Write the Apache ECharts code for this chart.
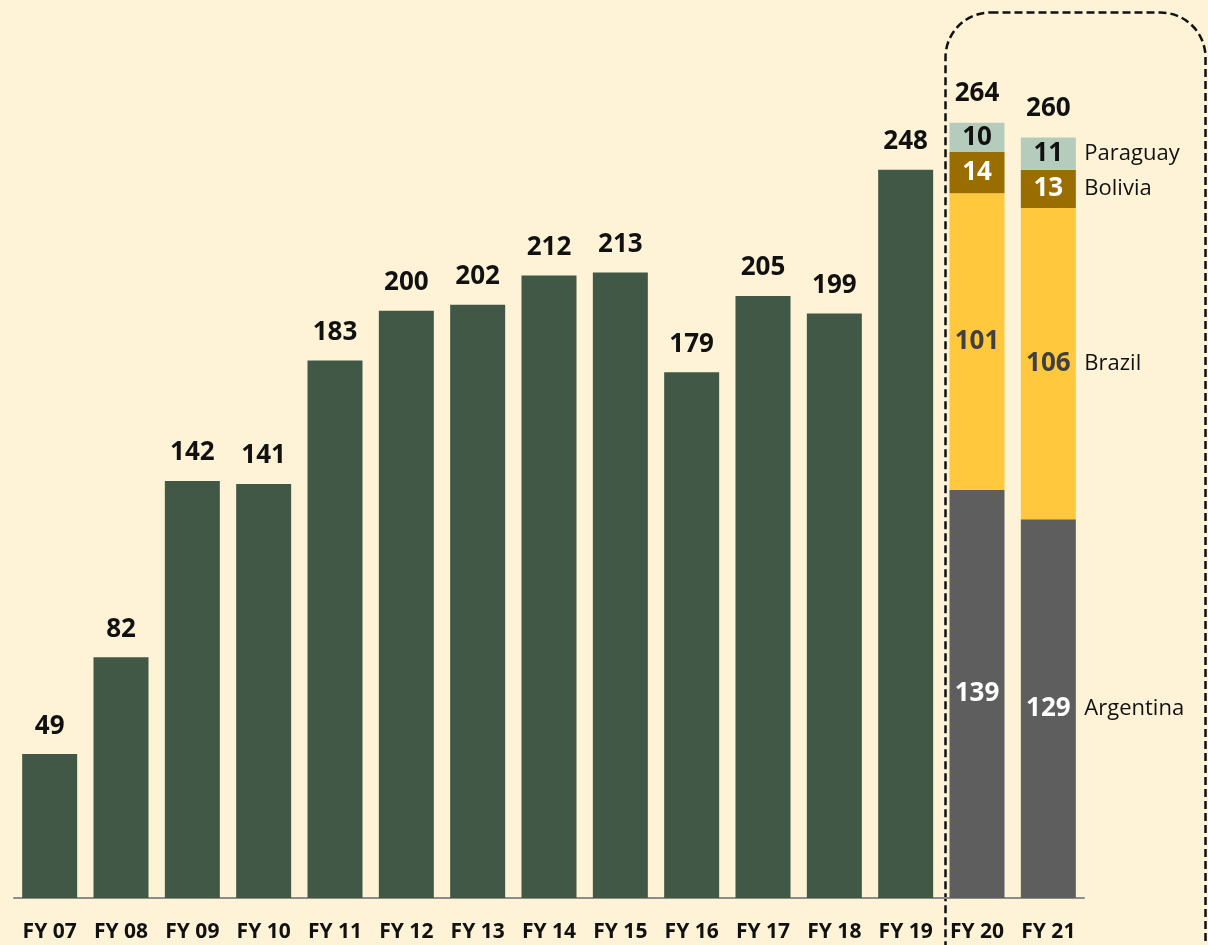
<!DOCTYPE html>
<html><head><meta charset="utf-8">
<script src="https://cdn.jsdelivr.net/npm/echarts@6/dist/echarts.min.js"></script>
<style>html,body{margin:0;padding:0;background:#FFF3D7;}#c{width:1208px;height:945px;}</style>
</head><body><div id="c"></div>
<script>
const categories = ['FY 07','FY 08','FY 09','FY 10','FY 11','FY 12','FY 13','FY 14','FY 15','FY 16','FY 17','FY 18','FY 19','FY 20','FY 21'];
const totalValues = [49,82,142,141,183,200,202,212,213,179,205,199,248,null,null];
const argentina = [null,null,null,null,null,null,null,null,null,null,null,null,null,139,129];
const brazil    = [null,null,null,null,null,null,null,null,null,null,null,null,null,101,106];
const bolivia   = [null,null,null,null,null,null,null,null,null,null,null,null,null,14,13];
const paraguay  = [null,null,null,null,null,null,null,null,null,null,null,null,null,10,11];
const stackTotals = {'FY 20':264,'FY 21':260};
const countryNames = ['Argentina','Brazil','Bolivia','Paraguay'];

const FONT = '"Open Sans", sans-serif';
const chart = echarts.init(document.getElementById('c'));
const bw = 55;
const segs = [argentina, brazil, bolivia, paraguay];
const colors = ['#5E5E5E','#FFC83D','#9A6D00','#B5CBBC'];
const labelColors = ['#FFFFFF','#404040','#FFFFFF','#111111'];
const last = categories.length - 1;
function cumMid(i, idx){
  let s = 0;
  for (let k = 0; k < i; k++) s += segs[k][idx];
  return s + segs[i][idx] / 2;
}
const stackSeries = segs.map((arr, i) => ({
  name: countryNames[i], type: 'bar', stack: 'x', barWidth: bw, data: arr,
  itemStyle: {color: colors[i]},
  label: {show: true, position: 'inside', fontFamily: FONT, fontWeight: 'bold', fontSize: 26, color: labelColors[i],
    formatter: p => p.value == null ? '' : String(p.value)},
  markPoint: {
    symbol: 'rect', symbolSize: 0, silent: true,
    label: {show: true, position: 'right', distance: 36, fontFamily: FONT, fontSize: 22, color: '#111',
      formatter: () => countryNames[i]},
    data: [{coord: [categories[last], cumMid(i, last)], value: 0}]
  }
}));
const totalsSeries = {
  name: 'tot', type: 'bar', stack: 'x', barWidth: bw,
  data: categories.map(() => null),
  markPoint: {
    symbol: 'rect', symbolSize: 0, silent: true,
    label: {show: true, position: 'top', distance: 16, fontFamily: FONT, fontWeight: 'bold', fontSize: 26, color: '#111',
      formatter: p => String(p.value)},
    data: Object.keys(stackTotals).map(c => {
      const idx = categories.indexOf(c);
      let s = 0; segs.forEach(a => s += a[idx]);
      return {coord: [c, s], value: stackTotals[c]};
    })
  }
};

chart.setOption({
  backgroundColor: '#FFF3D7',
  animation: false,
  grid: {left: 14, right: 124, top: 17, bottom: 47, containLabel: false},
  xAxis: {type: 'category', data: categories,
    axisLine: {lineStyle: {color: '#8C8C8C', width: 2}},
    axisTick: {show: false},
    axisLabel: {fontFamily: FONT, fontWeight: 'bold', fontSize: 21, color: '#111', margin: 24, interval: 0}},
  yAxis: {type: 'value', min: 0, max: 300, show: false, splitLine: {show: false}},
  series: [
    {name: 'Total', type: 'bar', barWidth: bw, barGap: '-100%', data: totalValues,
      itemStyle: {color: '#405845'},
      label: {show: true, position: 'top', distance: 15, fontFamily: FONT, fontWeight: 'bold', fontSize: 26, color: '#111'}},
    ...stackSeries,
    totalsSeries
  ],
  graphic: [{
    type: 'rect', left: 943, top: 10, silent: true,
    shape: {x: 0, y: 0, width: 260, height: 980, r: 45},
    style: {fill: 'none', stroke: '#111', lineWidth: 2.5, lineDash: [8, 4]}
  }]
});
</script></body></html>
